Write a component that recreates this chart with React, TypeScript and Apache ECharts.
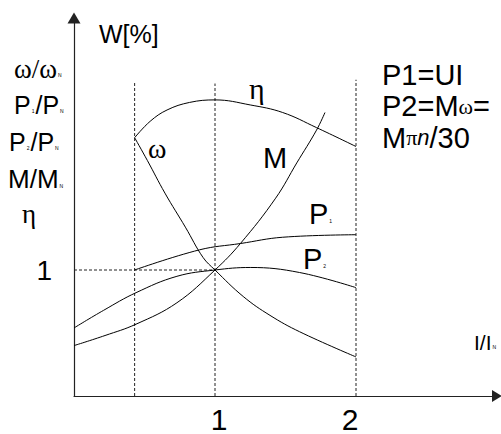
import { useEffect, useRef } from "react";
import * as echarts from "echarts";

const SANS = '"Liberation Sans", Arial, sans-serif';
const SERIF = '"Liberation Serif", "Times New Roman", serif';

// Relative load current I/I_N at the dashed reference lines, and their top ends
const markerX = [0.43, 1, 2];
const markerTop = [2.49, 2.48, 2.51];
// Horizontal reference at the rated value 1
const unityLine = [
  [0, 1],
  [1, 1],
];

// Characteristics versus I/I_N (relative values)
const etaCurve = [
  [0.43, 2.05],
  [0.54, 2.18],
  [0.66, 2.27],
  [0.82, 2.33],
  [1.0, 2.35],
  [1.25, 2.31],
  [1.48, 2.25],
  [1.72, 2.13],
  [2.0, 1.98],
];
const omegaCurve = [
  [0.43, 2.05],
  [0.52, 1.87],
  [0.645, 1.61],
  [0.79, 1.34],
  [0.915, 1.1],
  [1.0, 1.0],
  [1.2, 0.79],
  [1.39, 0.64],
  [1.6, 0.51],
  [2.0, 0.31],
];
const torqueCurve = [
  [0, 0.4],
  [0.22, 0.48],
  [0.44, 0.57],
  [0.73, 0.74],
  [1.0, 1.0],
  [1.18, 1.21],
  [1.43, 1.57],
  [1.58, 1.85],
  [1.72, 2.11],
  [1.78, 2.25],
];
const p1Curve = [
  [0.43, 1.0],
  [0.89, 1.16],
  [1.18, 1.21],
  [1.48, 1.26],
  [2.0, 1.28],
];
const p2Curve = [
  [0, 0.54],
  [0.21, 0.68],
  [0.44, 0.82],
  [0.73, 0.95],
  [1.0, 1.0],
  [1.25, 1.02],
  [1.6, 0.98],
  [2.0, 0.86],
];

const xTicks = [1, 2];
const yTicks = [1];

// rich-text styles: Greek letters in a serif face, tiny subscripts at the baseline
const rich = (size: number) => ({
  w: { fontSize: size, fontFamily: SERIF, fill: "#000" },
  g: { fontSize: Math.round(size * 0.76), fontFamily: SERIF, fill: "#000" },
  i: {
    fontSize: Math.round(size * 0.76),
    fontFamily: SANS,
    fontStyle: "italic",
    fill: "#000",
  },
  s: {
    fontSize: 5,
    fontFamily: SANS,
    fill: "#000",
    verticalAlign: "bottom",
    padding: [0, 1, Math.round(size * 0.17), 1],
  },
});

const text = (
  t: string,
  x: number,
  y: number,
  size: number,
  family: string = SANS
) => ({
  type: "text",
  x,
  y,
  silent: true,
  style: {
    text: t,
    fontSize: size,
    fontFamily: family,
    fill: "#000",
    align: "left",
    verticalAlign: "middle",
    textAlign: "left",
    textVerticalAlign: "middle",
    rich: rich(size),
  },
});

const curve = (name: string, data: number[][]) => ({
  name,
  type: "line",
  data,
  smooth: 0.4,
  symbol: "none",
  silent: true,
  lineStyle: { color: "#000", width: 1 },
  z: 3,
});

export default function App() {
  const ref = useRef<HTMLDivElement>(null);

  useEffect(() => {
    if (!ref.current) return;
    const chart = echarts.init(ref.current, undefined, { renderer: "svg" });

    const markers = markerX.map((x, i) => ({
      name: `ref${i}`,
      type: "line",
      data: [
        [x, 0],
        [x, markerTop[i]],
      ],
      symbol: "none",
      silent: true,
      lineStyle: { color: "#222", width: 1, type: [3, 2] },
      z: 2,
    }));

    chart.setOption({
      animation: false,
      backgroundColor: "#fff",
      grid: { left: 74, right: 4, top: 18, bottom: 38 },
      xAxis: {
        type: "value",
        min: 0,
        max: 3,
        interval: 1,
        axisLine: {
          show: true,
          symbol: ["none", "triangle"],
          symbolSize: [12, 10],
          lineStyle: { color: "#222", width: 1.2 },
        },
        axisTick: { show: false },
        splitLine: { show: false },
        axisLabel: {
          color: "#000",
          fontSize: 30,
          fontFamily: SANS,
          margin: 8,
          formatter: (v: number) =>
            xTicks.includes(v) ? (v === 1 ? `{a|${v}}` : `{b|${v}}`) : "",
          rich: {
            a: { fontSize: 30, fontFamily: SANS, padding: [0, 0, 0, 8] },
            b: { fontSize: 30, fontFamily: SANS, padding: [0, 12, 0, 0] },
          },
        },
      },
      yAxis: {
        type: "value",
        min: 0,
        max: 3,
        interval: 1,
        axisLine: {
          show: true,
          symbol: ["none", "triangle"],
          symbolSize: [13, 11],
          lineStyle: { color: "#222", width: 1.2 },
        },
        axisTick: { show: false },
        splitLine: { show: false },
        axisLabel: {
          color: "#000",
          fontSize: 28,
          fontFamily: SANS,
          margin: 22,
          padding: [8, 0, 0, 0],
          formatter: (v: number) => (yTicks.includes(v) ? String(v) : ""),
        },
      },
      series: [
        ...markers,
        {
          name: "rated",
          type: "line",
          data: unityLine,
          symbol: "none",
          silent: true,
          lineStyle: { color: "#222", width: 1, type: [3, 2] },
          z: 2,
        },
        curve("η", etaCurve),
        curve("ω", omegaCurve),
        curve("M", torqueCurve),
        curve("P1", p1Curve),
        curve("P2", p2Curve),
      ],
      graphic: [
        text("W[%]", 99, 34, 25),
        // formulas on the right
        text("P1=UI", 382, 75, 29),
        text("P2=M{g|ω}=", 382, 106, 29),
        text("M{g|π}{i|n}/30", 382, 137.5, 29),
        // quantities listed along the vertical axis
        text("{w|ω/ω}{s|N}", 14, 69, 27),
        text("P{s|1}/P{s|N}", 14, 105, 25),
        text("P{s|2}/P{s|N}", 9, 142, 25),
        text("M/M{s|N}", 8, 179, 26),
        text("η", 22, 214, 27, SERIF),
        // curve names
        text("η", 249, 88, 30, SERIF),
        text("ω", 148, 148, 28, SERIF),
        text("M", 263, 157.5, 29),
        text("P{s|1}", 309, 214, 29),
        text("P{s|2}", 303, 259, 29),
        // horizontal axis quantity
        text("I/I{s|N}", 474, 342.5, 21),
      ],
    });

    return () => chart.dispose();
  }, []);

  return (
    <div
      ref={ref}
      style={{ position: "absolute", left: 0, top: 0, width: 501, height: 434 }}
    />
  );
}
